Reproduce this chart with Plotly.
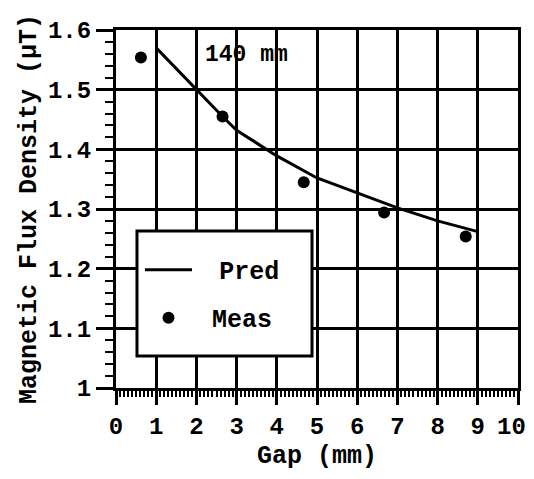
import plotly.graph_objects as go

# Data
pred_gap = [1.0, 2.0, 2.65, 3.0, 4.0, 5.0, 6.0, 7.0, 8.0, 9.0]
pred_flux = [1.57, 1.50, 1.455, 1.432, 1.389, 1.352, 1.327, 1.302, 1.280, 1.262]
meas_gap = [0.62, 2.65, 4.67, 6.67, 8.70]
meas_flux = [1.554, 1.455, 1.345, 1.294, 1.254]
x_ticks = list(range(0, 11))
x_tick_text = ["0", "1", "2", "3", "4", "5", "6", "7", "8", "9", "10"]
y_ticks = [1.0, 1.1, 1.2, 1.3, 1.4, 1.5, 1.6]
y_tick_text = ["1", "1.1", "1.2", "1.3", "1.4", "1.5", "1.6"]

FONT = "Liberation Mono, Courier New, monospace"
NB = "\u00a0"
SMALL_NB = "<span style='font-size:12px'>\u00a0</span>"

# keep the last x label inside the drawable page width
x_tick_labels = x_tick_text[:-1] + [x_tick_text[-1] + "<span style='font-size:22px'>\u00a0</span>"]

fig = go.Figure()
fig.add_trace(go.Scatter(
    x=pred_gap, y=pred_flux, mode="lines",
    line=dict(color="black", width=3),
    name=NB + SMALL_NB + "Pred", legendgroup="a",
))
fig.add_trace(go.Scatter(
    x=meas_gap, y=meas_flux, mode="markers",
    marker=dict(color="black", size=12),
    name=NB + "Meas", legendgroup="b",
))

fig.add_annotation(
    x=2.16, y=1.558, xref="x", yref="y", text="140 mm", showarrow=False,
    xanchor="left", yanchor="middle",
    font=dict(family=FONT, size=23, color="black", weight="bold"),
)

# legend frame (white box with thick border)
fig.add_shape(
    type="rect", xref="paper", yref="paper",
    x0=0.0522, x1=0.4876, y0=0.0894, y1=0.4385,
    line=dict(color="black", width=3), fillcolor="white", layer="above",
)

axis_common = dict(
    showline=True, linecolor="black", linewidth=3, mirror=True,
    showgrid=True, gridcolor="black", gridwidth=2.5,
    zeroline=False, ticks="outside", tickcolor="black", tickwidth=2.5,
    automargin=False,
    tickfont=dict(family=FONT, size=24, color="black", weight="bold"),
)

fig.update_xaxes(
    range=[0, 10], tickvals=x_ticks, ticktext=x_tick_labels, ticklen=14,
    ticklabeloverflow="allow",
    minor=dict(dtick=0.1, ticks="outside", ticklen=6, tickwidth=2, tickcolor="black", showgrid=False),
    title=dict(text="Gap (mm)", font=dict(family=FONT, size=25, color="black", weight="bold"), standoff=12),
    **axis_common,
)
fig.update_yaxes(
    range=[1.0, 1.6], tickvals=y_ticks, ticktext=y_tick_text, ticklen=17,
    minor=dict(dtick=0.02, ticks="outside", ticklen=8, tickwidth=2, tickcolor="black", showgrid=False),
    title=dict(text="Magnetic Flux Density (\u03bcT)", font=dict(family=FONT, size=25, color="black", weight="bold"), standoff=5),
    **axis_common,
)

# The page keeps its default 8px body margin; the figure is sized so the
# page fits the 534x479 window exactly, and the plot area lands where the
# reference has it.
fig.update_layout(
    width=518, height=463, autosize=False,
    margin=dict(l=108, r=8, t=22, b=83, autoexpand=False),
    paper_bgcolor="white", plot_bgcolor="white",
    showlegend=True,
    legend=dict(
        x=0.0597, y=0.394, xanchor="left", yanchor="top",
        bgcolor="rgba(0,0,0,0)", borderwidth=0,
        font=dict(family=FONT, size=25, color="black", weight="bold"),
        tracegroupgap=12.5, itemwidth=47,
    ),
)

fig.write_html("out.html", config={"displayModeBar": False})
